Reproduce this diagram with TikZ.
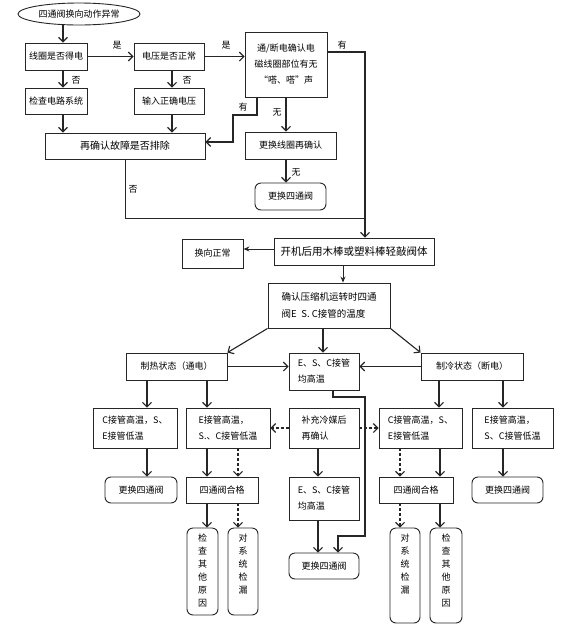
\documentclass[tikz,border=0pt]{standalone}
\usepackage{fontspec}
\setmainfont{Noto Sans CJK SC}
\usetikzlibrary{arrows.meta,shapes.geometric}
\newcommand\fs{\fontsize{9}{16}\selectfont}
\newcommand\fv{\fontsize{9}{13}\selectfont}
\begin{document}
\begin{tikzpicture}[x=1pt,y=-1pt,
 base/.style={draw=black!85, line width=0.9pt, font=\fs, inner sep=0pt, align=center, text=black},
 box/.style={base},
 rbox/.style={base, rounded corners=6pt},
 lbox/.style={base, align=left},
 vbox/.style={base, rounded corners=6pt},
 vlab/.style={anchor=north, yshift=-6pt, font=\fv, align=center, inner sep=0pt, text=black},
 sz/.style 2 args={minimum width=#1pt, minimum height=#2pt},
 arr/.style={draw=black!85, line width=1.1pt, -{Straight Barb[length=4.5pt,width=9pt]}},
 tri/.style={draw=black!85, line width=1pt, -{Stealth[length=6pt,width=5pt]}},
 darr/.style={arr, dash pattern=on 3pt off 2pt},
 ln/.style={draw=black!85, line width=1pt},
 lab/.style={font=\fs, inner sep=1pt, text=black}
]
\fill[white] (0,0) rectangle (576,630);
\useasboundingbox (0,0) rectangle (576,630);

% nodes
\node[base, ellipse, sz={122}{22}] (start) at (79,14) {四通阀换向动作异常};
\node[box, sz={62}{27}] (n1) at (56,56.5) {线圈是否得电};
\node[box, sz={70}{27}] (n2) at (169,56.5) {电压是否正常};
\node[box, sz={82}{65}] (n3) at (286,64.5) {通/断电确认电\\磁线圈部位有无\\“嗒、嗒”声};
\node[box, sz={62}{26}] (n4) at (56,101) {检查电路系统};
\node[box, sz={70}{26}] (n5) at (169,101) {输入正确电压};
\node[box, sz={160}{26}, font=\fontsize{10}{16}\selectfont] (n6) at (125,146) {再确认故障是否排除};
\node[box, sz={91}{27}] (n7) at (290.5,145.5) {更换线圈再确认};
\node[rbox, sz={71}{27}] (n8) at (290.5,196.5) {更换四通阀};
\node[box, sz={160}{27}, font=\fontsize{10.5}{16}\selectfont] (n9) at (354,251.5) {开机后用木棒或塑料棒轻敲阀体};
\node[box, sz={61}{29}] (n10) at (212.5,253.5) {换向正常};
\node[lbox, sz={122}{45}, font=\fontsize{9.5}{17}\selectfont] (n11) at (329,305.5) {确认压缩机运转时四通\\阀E\enspace S. C接管的温度};
\node[box, sz={101}{27}] (n12) at (176.5,366.5) {制热状态（通电）};
\node[lbox, sz={70}{37}] (n13) at (324,371.5) {E、S、C接管\\均高温};
\node[box, sz={102}{27}] (n14) at (472,366.5) {制冷状态（断电）};
\node[lbox, sz={84}{40}] (a) at (135,428) {C接管高温，S、\\E接管低温};
\node[lbox, sz={84}{40}] (b) at (228,428) {E接管高温，\\S.、C接管低温};
\node[lbox, sz={70}{40}] (m) at (324,428) {补充冷媒后\\再确认};
\node[lbox, sz={83}{40}] (c) at (420.5,428) {C接管高温，S、\\E接管低温};
\node[lbox, sz={81}{40}] (d) at (512.5,428) {E接管高温，\\S、C接管低温};
\node[rbox, sz={72}{26}] (r1) at (141,490) {更换四通阀};
\node[box, sz={72}{26}] (r2) at (222,490) {四通阀合格};
\node[lbox, sz={70}{43}] (r3) at (324,498.5) {E、S、C接管\\均高温};
\node[box, sz={74}{26}] (r4) at (416,490) {四通阀合格};
\node[rbox, sz={71}{26}] (r5) at (507.5,490) {更换四通阀};
\node[vbox, sz={31}{87}, label={[vlab]north:{检\\查\\其\\他\\原\\因}}] (v1) at (202.5,571.5) {};
\node[vbox, sz={30}{87}, label={[vlab]north:{对\\系\\统\\检\\漏}}] (v2) at (243,571.5) {};
\node[rbox, sz={70}{26}] (f) at (324,566) {更换四通阀};
\node[vbox, sz={30}{95}, label={[vlab]north:{对\\系\\统\\检\\漏}}] (v3) at (405,575.5) {};
\node[vbox, sz={32}{95}, label={[vlab]north:{检\\查\\其\\他\\原\\因}}] (v4) at (446,575.5) {};

% labels
\node[lab] (y1) at (117,45) {是};
\node[lab] (y2) at (226,45) {是};
\node[lab] (no1) at (76,80) {否};
\node[lab] (no2) at (187,80) {否};
\node[lab] (h1) at (243,107) {有};
\node[lab] (w1) at (277,112) {无};
\node[lab] (w2) at (296,172) {无};
\node[lab] (h2) at (342,45) {有};
\node[lab] (no3) at (133,189) {否};

% connectors
\draw[arr] (start.south -| 63,0) -- (n1.north -| 63,0);
\draw[arr] (n1.east) -- (n2.west);
\draw[arr] (n2.east) -- (n2.east -| n3.west);
\draw[arr] (n1.south -| 63,0) -- (n4.north -| 63,0);
\draw[arr] (n2.south -| 172,0) -- (n5.north -| 172,0);
\draw[arr] (n4.south -| 63,0) -- (n6.north -| 63,0);
\draw[arr] (n5.south -| 172,0) -- (n6.north -| 172,0);
\draw[arr] (n3.south -| 257,0) -- (257,115) -- (233,115) -- (233,142) -- (n6.east |- 0,142);
\draw[arr] (n3.south -| 286,0) -- (n7.north -| 286,0);
\draw[arr] (n7.south -| 286,0) -- (n8.north -| 286,0);
\draw[arr] (n3.east |- 0,52) -- (365,52) -- (n9.north -| 365,0);
\draw[ln] (n6.south) -- (125,218) -- (365,218);
\draw[tri] (n9.west |- 0,249) -- (n10.east |- 0,249);
\draw[tri] (n9.south -| 343,0) -- (n11.north -| 343,0);
\draw[arr] (n11.south west) -- (n12.north east);
\draw[arr] (n11.south -| 323,0) -- (n13.north -| 323,0);
\draw[arr] (n11.south east) -- (n14.north west);
\draw[arr] (n12.east) -- (n12.east -| n13.west);
\draw[arr] (n14.west) -- (n14.west -| n13.east);
\draw[arr] (n12.south -| 147,0) -- (a.north -| 147,0);
\draw[arr] (n12.south -| 207,0) -- (b.north -| 207,0);
\draw[arr] (n14.south -| 439,0) -- (c.north -| 439,0);
\draw[arr] (n14.south -| 503,0) -- (d.north -| 503,0);
\draw[darr] (m.west) -- (b.east);
\draw[darr] (m.east) -- (c.west);
\draw[arr] (n13.south -| 333,0) -- (333,397) -- (365,397) -- (365,536) -- (338,536) -- (f.north -| 338,0);
\draw[arr] (a.south -| 147,0) -- (r1.north -| 147,0);
\draw[arr] (b.south -| 207,0) -- (r2.north -| 207,0);
\draw[darr] (b.south -| 238,0) -- (r2.north -| 238,0);
\draw[arr] (m.south -| 318,0) -- (r3.north -| 318,0);
\draw[darr] (c.south -| 400,0) -- (r4.north -| 400,0);
\draw[arr] (c.south -| 440,0) -- (r4.north -| 440,0);
\draw[arr] (d.south -| 503,0) -- (r5.north -| 503,0);
\draw[arr] (r2.south -| 207,0) -- (v1.north -| 207,0);
\draw[darr] (r2.south -| 238,0) -- (v2.north -| 238,0);
\draw[darr] (r4.south -| 400,0) -- (v3.north -| 400,0);
\draw[arr] (r4.south -| 440,0) -- (v4.north -| 440,0);
\draw[arr] (r3.south -| 318,0) -- (f.north -| 318,0);
\end{tikzpicture}
\end{document}
